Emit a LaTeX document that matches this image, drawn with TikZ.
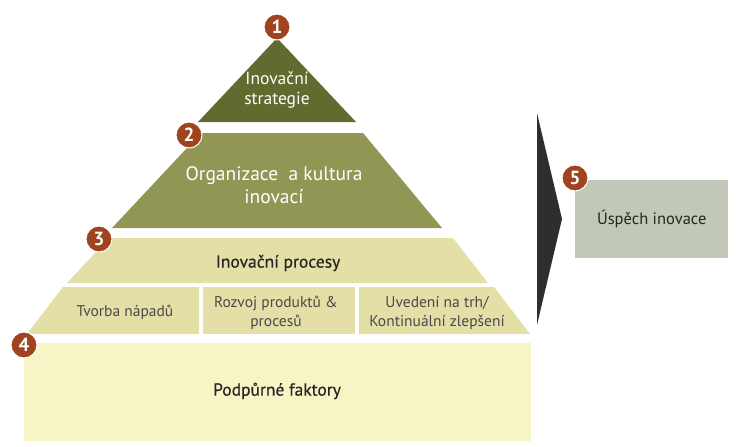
\documentclass[tikz,border=0pt]{standalone}
\usepackage{fontspec}
\setmainfont{PT Sans}
\newfontface\medfont{PT Sans}[FakeBold=0.4]
\definecolor{olivedark}{HTML}{5F6B2F}
\definecolor{olivemid}{HTML}{929655}
\definecolor{sandband}{HTML}{E3DFA6}
\definecolor{paleyellow}{HTML}{F7F4C5}
\definecolor{sagebox}{HTML}{C2C8B7}
\definecolor{badgered}{HTML}{A0441F}
\definecolor{arrowdark}{HTML}{2E2E2E}
\definecolor{textdark}{HTML}{252525}
\definecolor{textgray}{HTML}{4A4A4A}
\tikzset{
  badge/.style={circle, fill=badgered, draw=white, line width=1pt, minimum size=26pt, inner sep=0pt, text=white, font=\fontsize{19}{19}\selectfont\bfseries},
  darklabel/.style={text=textdark, align=center, font=\fontsize{17.5}{20}\selectfont\medfont},
  celllabel/.style={text=textgray, align=center, font=\fontsize{15.5}{18.5}\selectfont},
  lightlabel/.style={text=white, align=center},
}
\begin{document}
\begin{tikzpicture}[x=1pt,y=-1pt]
\useasboundingbox (0,0) rectangle (739,447);
% layers
\fill[olivedark] (277,38) -- (356,122) -- (198,122) -- cycle;
\fill[olivemid] (201,133) -- (363,133) -- (442,228) -- (112,228) -- cycle;
\fill[sandband] (109,238) -- (453,238) -- (488,283) -- (67,283) -- cycle;
\fill[sandband] (63,287) -- (199,287) -- (199,334) -- (27,334) -- cycle;
\fill[sandband] (203,287) -- (355,287) -- (355,334) -- (203,334) -- cycle;
\fill[sandband] (359,287) -- (494,287) -- (530,334) -- (359,334) -- cycle;
\fill[paleyellow] (24,343) rectangle (531,441);
% arrow
\fill[arrowdark] (537,113) -- (562,219) -- (537,325) -- cycle;
% success box
\node[fill=sagebox, minimum width=153pt, minimum height=78pt, inner sep=0pt, anchor=north west, text=textdark, font=\fontsize{16.5}{20}\selectfont] (succ) at (575,180) {Úspěch inovace};
% labels
\node[lightlabel, font=\fontsize{17.5}{20}\selectfont] (strat) at (277,90) {Inovační\\strategie};
\node[lightlabel, font=\fontsize{19.5}{23}\selectfont] (org) at (274,185) {Organizace\ \ a kultura\\inovací};
\node[darklabel] (proc) at (278,263) {Inovační procesy};
\node[celllabel] (c1) at (125,312) {Tvorba nápadů};
\node[celllabel] (c2) at (276,313) {Rozvoj produktů \&\\procesů};
\node[celllabel] (c3) at (437,313) {Uvedení na trh/\\Kontinuální zlepšení};
\node[darklabel] (supp) at (277,391) {Podpůrné faktory};
% badges
\node[badge] (b1) at (277,27) {1};
\node[badge] (b2) at (189,135) {2};
\node[badge] (b3) at (99,239) {3};
\node[badge] (b4) at (24,345) {4};
\node[badge] (b5) at (575,178) {5};
\end{tikzpicture}
\end{document}
